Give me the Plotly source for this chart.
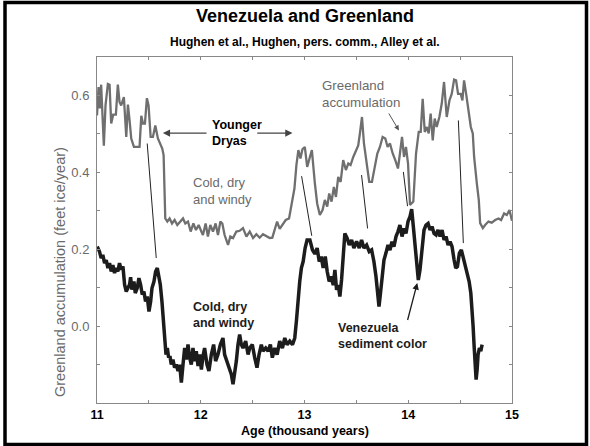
import plotly.graph_objects as go

# Greenland accumulation (feet ice / year) against age (thousand years)
gl_age = [11.000, 11.015, 11.027, 11.040, 11.053, 11.066, 11.082, 11.105, 11.121, 11.137,
          11.156, 11.182, 11.201, 11.217, 11.233, 11.259, 11.282, 11.298, 11.314, 11.330,
          11.356, 11.410, 11.427, 11.443, 11.462, 11.481, 11.497, 11.517, 11.539, 11.562,
          11.587, 11.613, 11.629, 11.642, 11.658, 11.678, 11.700, 11.723, 11.748, 11.774,
          11.800, 11.829, 11.851, 11.877, 11.903, 11.929, 11.954, 11.980, 12.006, 12.021,
          12.047, 12.069, 12.092, 12.118, 12.143, 12.166, 12.189, 12.208, 12.230, 12.263,
          12.285, 12.311, 12.343, 12.375, 12.407, 12.440, 12.472, 12.504, 12.536, 12.568,
          12.600, 12.633, 12.665, 12.690, 12.713, 12.736, 12.761, 12.787, 12.819, 12.851,
          12.877, 12.903, 12.922, 12.941, 12.961, 12.980, 13.003, 13.026, 13.052, 13.071,
          13.100, 13.122, 13.148, 13.174, 13.196, 13.219, 13.238, 13.261, 13.283, 13.303,
          13.325, 13.348, 13.373, 13.399, 13.422, 13.444, 13.470, 13.496, 13.518, 13.534,
          13.554, 13.573, 13.599, 13.624, 13.650, 13.679, 13.702, 13.727, 13.753, 13.779,
          13.801, 13.824, 13.850, 13.875, 13.901, 13.920, 13.940, 13.959, 13.978, 13.998,
          14.017, 14.049, 14.075, 14.101, 14.120, 14.139, 14.159, 14.178, 14.197, 14.216,
          14.236, 14.255, 14.274, 14.300, 14.323, 14.345, 14.371, 14.397, 14.419, 14.442,
          14.461, 14.480, 14.506, 14.522, 14.538, 14.558, 14.580, 14.603, 14.622, 14.635,
          14.661, 14.680, 14.693, 14.719, 14.741, 14.773, 14.805, 14.838, 14.870, 14.895,
          14.924, 14.950, 14.976, 15.000]
gl_acc = [0.548, 0.622, 0.566, 0.628, 0.548, 0.469, 0.574, 0.630, 0.628, 0.527,
          0.550, 0.550, 0.628, 0.583, 0.574, 0.596, 0.492, 0.576, 0.535, 0.488,
          0.466, 0.466, 0.547, 0.527, 0.527, 0.593, 0.574, 0.492, 0.492, 0.522,
          0.488, 0.470, 0.462, 0.445, 0.280, 0.272, 0.280, 0.267, 0.276, 0.263,
          0.272, 0.280, 0.267, 0.272, 0.246, 0.267, 0.250, 0.263, 0.246, 0.237,
          0.267, 0.233, 0.263, 0.246, 0.267, 0.237, 0.272, 0.267, 0.237, 0.211,
          0.233, 0.229, 0.246, 0.248, 0.255, 0.233, 0.246, 0.229, 0.239, 0.230,
          0.239, 0.233, 0.229, 0.230, 0.253, 0.272, 0.253, 0.263, 0.276, 0.280,
          0.315, 0.358, 0.419, 0.458, 0.436, 0.460, 0.466, 0.414, 0.440, 0.458,
          0.371, 0.319, 0.289, 0.302, 0.328, 0.311, 0.345, 0.324, 0.362, 0.336,
          0.388, 0.375, 0.432, 0.406, 0.423, 0.419, 0.440, 0.458, 0.470, 0.501,
          0.544, 0.475, 0.423, 0.375, 0.375, 0.414, 0.449, 0.466, 0.492, 0.488,
          0.466, 0.475, 0.449, 0.432, 0.410, 0.449, 0.492, 0.440, 0.466, 0.423,
          0.315, 0.324, 0.449, 0.505, 0.505, 0.591, 0.505, 0.518, 0.501, 0.553,
          0.483, 0.540, 0.518, 0.544, 0.579, 0.635, 0.544, 0.587, 0.604, 0.641,
          0.639, 0.604, 0.604, 0.587, 0.639, 0.604, 0.566, 0.518, 0.501, 0.440,
          0.371, 0.328, 0.268, 0.255, 0.263, 0.272, 0.269, 0.276, 0.280, 0.276,
          0.293, 0.289, 0.302, 0.274]

# Venezuela (Cariaco) sediment colour, plotted on the same vertical scale
ve_age = [11.002, 11.024, 11.040, 11.056, 11.073, 11.089, 11.105, 11.121, 11.137, 11.153,
          11.169, 11.185, 11.201, 11.217, 11.233, 11.250, 11.266, 11.282, 11.298, 11.314,
          11.324, 11.336, 11.356, 11.369, 11.388, 11.404, 11.420, 11.436, 11.452, 11.468,
          11.484, 11.501, 11.517, 11.530, 11.549, 11.565, 11.581, 11.594, 11.610, 11.626,
          11.639, 11.652, 11.665, 11.678, 11.690, 11.703, 11.716, 11.732, 11.748, 11.764,
          11.781, 11.797, 11.813, 11.829, 11.845, 11.861, 11.877, 11.893, 11.909, 11.925,
          11.941, 11.957, 11.974, 11.990, 12.006, 12.022, 12.037, 12.060, 12.079, 12.102,
          12.124, 12.143, 12.166, 12.189, 12.214, 12.230, 12.253, 12.279, 12.295, 12.311,
          12.327, 12.343, 12.359, 12.375, 12.391, 12.407, 12.433, 12.456, 12.472, 12.497,
          12.520, 12.542, 12.562, 12.584, 12.600, 12.626, 12.649, 12.671, 12.690, 12.713,
          12.736, 12.761, 12.787, 12.810, 12.832, 12.858, 12.884, 12.906, 12.922, 12.938,
          12.954, 12.970, 12.987, 13.006, 13.025, 13.052, 13.077, 13.100, 13.122, 13.142,
          13.161, 13.180, 13.200, 13.219, 13.238, 13.257, 13.277, 13.293, 13.309, 13.325,
          13.341, 13.357, 13.373, 13.389, 13.412, 13.431, 13.454, 13.476, 13.502, 13.528,
          13.550, 13.573, 13.599, 13.624, 13.647, 13.669, 13.689, 13.705, 13.718, 13.731,
          13.747, 13.766, 13.785, 13.805, 13.824, 13.843, 13.862, 13.882, 13.901, 13.920,
          13.940, 13.959, 13.978, 13.998, 14.017, 14.033, 14.049, 14.065, 14.081, 14.097,
          14.113, 14.133, 14.152, 14.171, 14.191, 14.210, 14.229, 14.249, 14.268, 14.287,
          14.307, 14.326, 14.345, 14.364, 14.384, 14.403, 14.422, 14.442, 14.458, 14.474,
          14.493, 14.512, 14.532, 14.551, 14.570, 14.587, 14.603, 14.616, 14.625, 14.635,
          14.644, 14.654, 14.664, 14.673, 14.686, 14.699, 14.712]
ve_color = [0.207, 0.194, 0.177, 0.185, 0.164, 0.172, 0.151, 0.164, 0.142, 0.159,
            0.138, 0.151, 0.142, 0.164, 0.147, 0.155, 0.108, 0.090, 0.099, 0.108,
            0.127, 0.095, 0.116, 0.086, 0.099, 0.125, 0.108, 0.082, 0.090, 0.064,
            0.077, 0.038, 0.064, 0.099, 0.116, 0.142, 0.151, 0.133, 0.108, 0.064,
            0.013, -0.048, -0.074, -0.057, -0.082, -0.078, -0.100, -0.087, -0.108, -0.100,
            -0.117, -0.100, -0.147, -0.100, -0.057, -0.087, -0.048, -0.082, -0.100, -0.057,
            -0.091, -0.065, -0.104, -0.074, -0.113, -0.078, -0.057, -0.100, -0.117, -0.074,
            -0.048, -0.091, -0.074, -0.048, -0.031, -0.074, -0.091, -0.108, -0.126, -0.151,
            -0.126, -0.091, -0.048, -0.022, -0.048, -0.057, -0.039, -0.074, -0.057, -0.048,
            -0.082, -0.108, -0.074, -0.048, -0.065, -0.057, -0.065, -0.048, -0.082, -0.057,
            -0.074, -0.039, -0.057, -0.031, -0.048, -0.039, -0.048, -0.031, 0.013, 0.073,
            0.116, 0.151, 0.168, 0.203, 0.224, 0.224, 0.198, 0.188, 0.203, 0.168,
            0.181, 0.151, 0.181, 0.142, 0.116, 0.129, 0.107, 0.146, 0.094, 0.107,
            0.077, 0.120, 0.181, 0.241, 0.228, 0.211, 0.224, 0.203, 0.220, 0.203,
            0.224, 0.203, 0.211, 0.194, 0.198, 0.168, 0.129, 0.073, 0.051, 0.082,
            0.129, 0.172, 0.190, 0.211, 0.198, 0.220, 0.207, 0.233, 0.246, 0.263,
            0.233, 0.254, 0.241, 0.272, 0.285, 0.304, 0.259, 0.207, 0.146, 0.120,
            0.146, 0.207, 0.250, 0.263, 0.267, 0.250, 0.259, 0.241, 0.237, 0.250,
            0.233, 0.250, 0.224, 0.233, 0.211, 0.220, 0.207, 0.172, 0.151, 0.155,
            0.190, 0.198, 0.177, 0.151, 0.133, 0.116, 0.086, 0.043, 0.000, -0.052,
            -0.104, -0.139, -0.113, -0.074, -0.057, -0.065, -0.048]

# Tie points linking features of the two records
tie_gl_age = [11.484, 12.972, 13.550, 13.953, 14.483]
tie_gl_val = [0.475, 0.390, 0.393, 0.401, 0.535]
tie_ve_age = [11.571, 13.070, 13.608, 13.993, 14.531]
tie_ve_val = [0.177, 0.235, 0.254, 0.312, 0.216]

x_ticks = [11, 11.5, 12, 12.5, 13, 13.5, 14, 14.5, 15]
x_labels = ["11", "", "12", "", "13", "", "14", "", "15"]
y_ticks = [-0.1, 0.0, 0.1, 0.2, 0.3, 0.4, 0.5, 0.6]
y_labels = ["", "0.0", "", "0.2", "", "0.4", "", "0.6"]

FONT = "Liberation Sans, Arial, Helvetica, sans-serif"
W, H = 590, 446
ML, MR, MT, MB = 97, 78, 57, 43
PW, PH = W - ML - MR, H - MT - MB


def px(x):
    return (x - ML) / PW


def py(y):
    return (H - MB - y) / PH


fig = go.Figure()

fig.add_trace(go.Scatter(x=gl_age, y=gl_acc, mode="lines",
                         line=dict(color="#6f6f6f", width=2.3),
                         hoverinfo="skip", showlegend=False))
fig.add_trace(go.Scatter(x=ve_age, y=ve_color, mode="lines",
                         line=dict(color="#1c1c1c", width=3.5),
                         hoverinfo="skip", showlegend=False))

shapes = []
for ga, gv, va, vv in zip(tie_gl_age, tie_gl_val, tie_ve_age, tie_ve_val):
    shapes.append(dict(type="line", xref="x", yref="y", x0=ga, y0=gv, x1=va, y1=vv,
                       line=dict(color="#222222", width=1)))
# outer frame
shapes.append(dict(type="rect", xref="paper", yref="paper",
                   x0=px(5), x1=px(586.5), y0=py(444.5), y1=py(2.5),
                   line=dict(color="black", width=3.5), layer="above"))

annotations = [
    dict(text="<b>Venezuela and Greenland</b>", xref="paper", yref="paper",
         x=px(305), y=py(16), showarrow=False, font=dict(family=FONT, size=18, color="black"),
         xanchor="center", yanchor="middle"),
    dict(text="<b>Hughen et al., Hughen, pers. comm., Alley et al.</b>", xref="paper", yref="paper",
         x=px(305), y=py(42), showarrow=False, font=dict(family=FONT, size=12, color="black"),
         xanchor="center", yanchor="middle"),
    dict(text="<b>Age (thousand years)</b>", xref="paper", yref="paper",
         x=px(305), y=py(431), showarrow=False, font=dict(family=FONT, size=12.5, color="black"),
         xanchor="center", yanchor="middle"),
    dict(text="Greenland accumulation (feet ice/year)", xref="paper", yref="paper",
         x=px(60), y=py(272), showarrow=False, textangle=-90,
         font=dict(family=FONT, size=14.5, color="#6a6a6a"), xanchor="center", yanchor="middle"),
    # Younger Dryas label and span arrows
    dict(text="<b>Younger<br>Dryas</b>", x=12.089, y=0.502, xref="x", yref="y",
         showarrow=False, align="left", xanchor="left", yanchor="middle",
         font=dict(family=FONT, size=12.5, color="black")),
    dict(x=11.635, y=0.502, ax=12.07, ay=0.502, xref="x", yref="y", axref="x", ayref="y",
         text="", showarrow=True, arrowhead=2, arrowsize=1.2, arrowwidth=1.2, arrowcolor="#444444"),
    dict(x=12.884, y=0.502, ax=12.53, ay=0.502, xref="x", yref="y", axref="x", ayref="y",
         text="", showarrow=True, arrowhead=2, arrowsize=1.2, arrowwidth=1.2, arrowcolor="#444444"),
    dict(text="Cold, dry<br>and windy", x=11.909, y=0.352, xref="x", yref="y",
         showarrow=False, align="left", xanchor="left", yanchor="middle",
         font=dict(family=FONT, size=13, color="#6a6a6a")),
    dict(text="<b>Cold, dry<br>and windy</b>", x=11.903, y=0.029, xref="x", yref="y",
         showarrow=False, align="left", xanchor="left", yanchor="middle",
         font=dict(family=FONT, size=12.5, color="#1c1c1c")),
    dict(text="Greenland<br>accumulation", x=13.148, y=0.605, xref="x", yref="y",
         showarrow=False, align="left", xanchor="left", yanchor="middle",
         font=dict(family=FONT, size=13.3, color="#6a6a6a")),
    dict(x=13.910, y=0.509, ax=13.804, ay=0.557, xref="x", yref="y", axref="x", ayref="y",
         text="", showarrow=True, arrowhead=2, arrowsize=1, arrowwidth=1, arrowcolor="#555555"),
    dict(text="<b>Venezuela<br>sediment color</b>", x=13.302, y=-0.025, xref="x", yref="y",
         showarrow=False, align="left", xanchor="left", yanchor="middle",
         font=dict(family=FONT, size=12.5, color="#1c1c1c")),
    dict(x=14.087, y=0.112, ax=13.990, ay=0.012, xref="x", yref="y", axref="x", ayref="y",
         text="", showarrow=True, arrowhead=2, arrowsize=1, arrowwidth=1.3, arrowcolor="#1c1c1c"),
    # right-hand direction indicator
    dict(x=15.153, y=-0.182, ax=15.153, ay=0.185, xref="x", yref="y", axref="x", ayref="y",
         text="", showarrow=True, arrowhead=2, arrowsize=1, arrowwidth=1.3, arrowcolor="#1c1c1c"),
    dict(text="Venezuela", x=15.07, y=-0.069, xref="x", yref="y", showarrow=False,
         textangle=-90, xanchor="center", yanchor="middle",
         font=dict(family=FONT, size=12.5, color="#222222")),
    dict(text="Colder, drier, windier", x=15.27, y=0.025, xref="x", yref="y", showarrow=False,
         textangle=-90, xanchor="center", yanchor="middle",
         font=dict(family=FONT, size=13, color="#222222")),
]

fig.update_layout(
    width=W, height=H,
    margin=dict(l=ML, r=MR, t=MT, b=MB),
    paper_bgcolor="white", plot_bgcolor="white",
    shapes=shapes, annotations=annotations,
    showlegend=False,
    xaxis=dict(range=[11, 15], tickmode="array", tickvals=x_ticks,
               ticktext=[f"<b>{t}</b>" if t else "" for t in x_labels],
               ticks="inside", ticklen=3, tickcolor="#888888", showline=True,
               linecolor="#888888", linewidth=1, mirror="ticks", showgrid=False, zeroline=False,
               tickfont=dict(family=FONT, size=12.5, color="black"), fixedrange=True),
    yaxis=dict(range=[-0.2, 0.7], tickmode="array", tickvals=y_ticks, ticktext=y_labels,
               ticks="inside", ticklen=3, tickcolor="#888888", showline=True,
               linecolor="#888888", linewidth=1, mirror="ticks", showgrid=False, zeroline=False,
               tickfont=dict(family=FONT, size=13, color="#6a6a6a"), ticklabelstandoff=4,
               fixedrange=True),
)

fig.write_html("out.html")
